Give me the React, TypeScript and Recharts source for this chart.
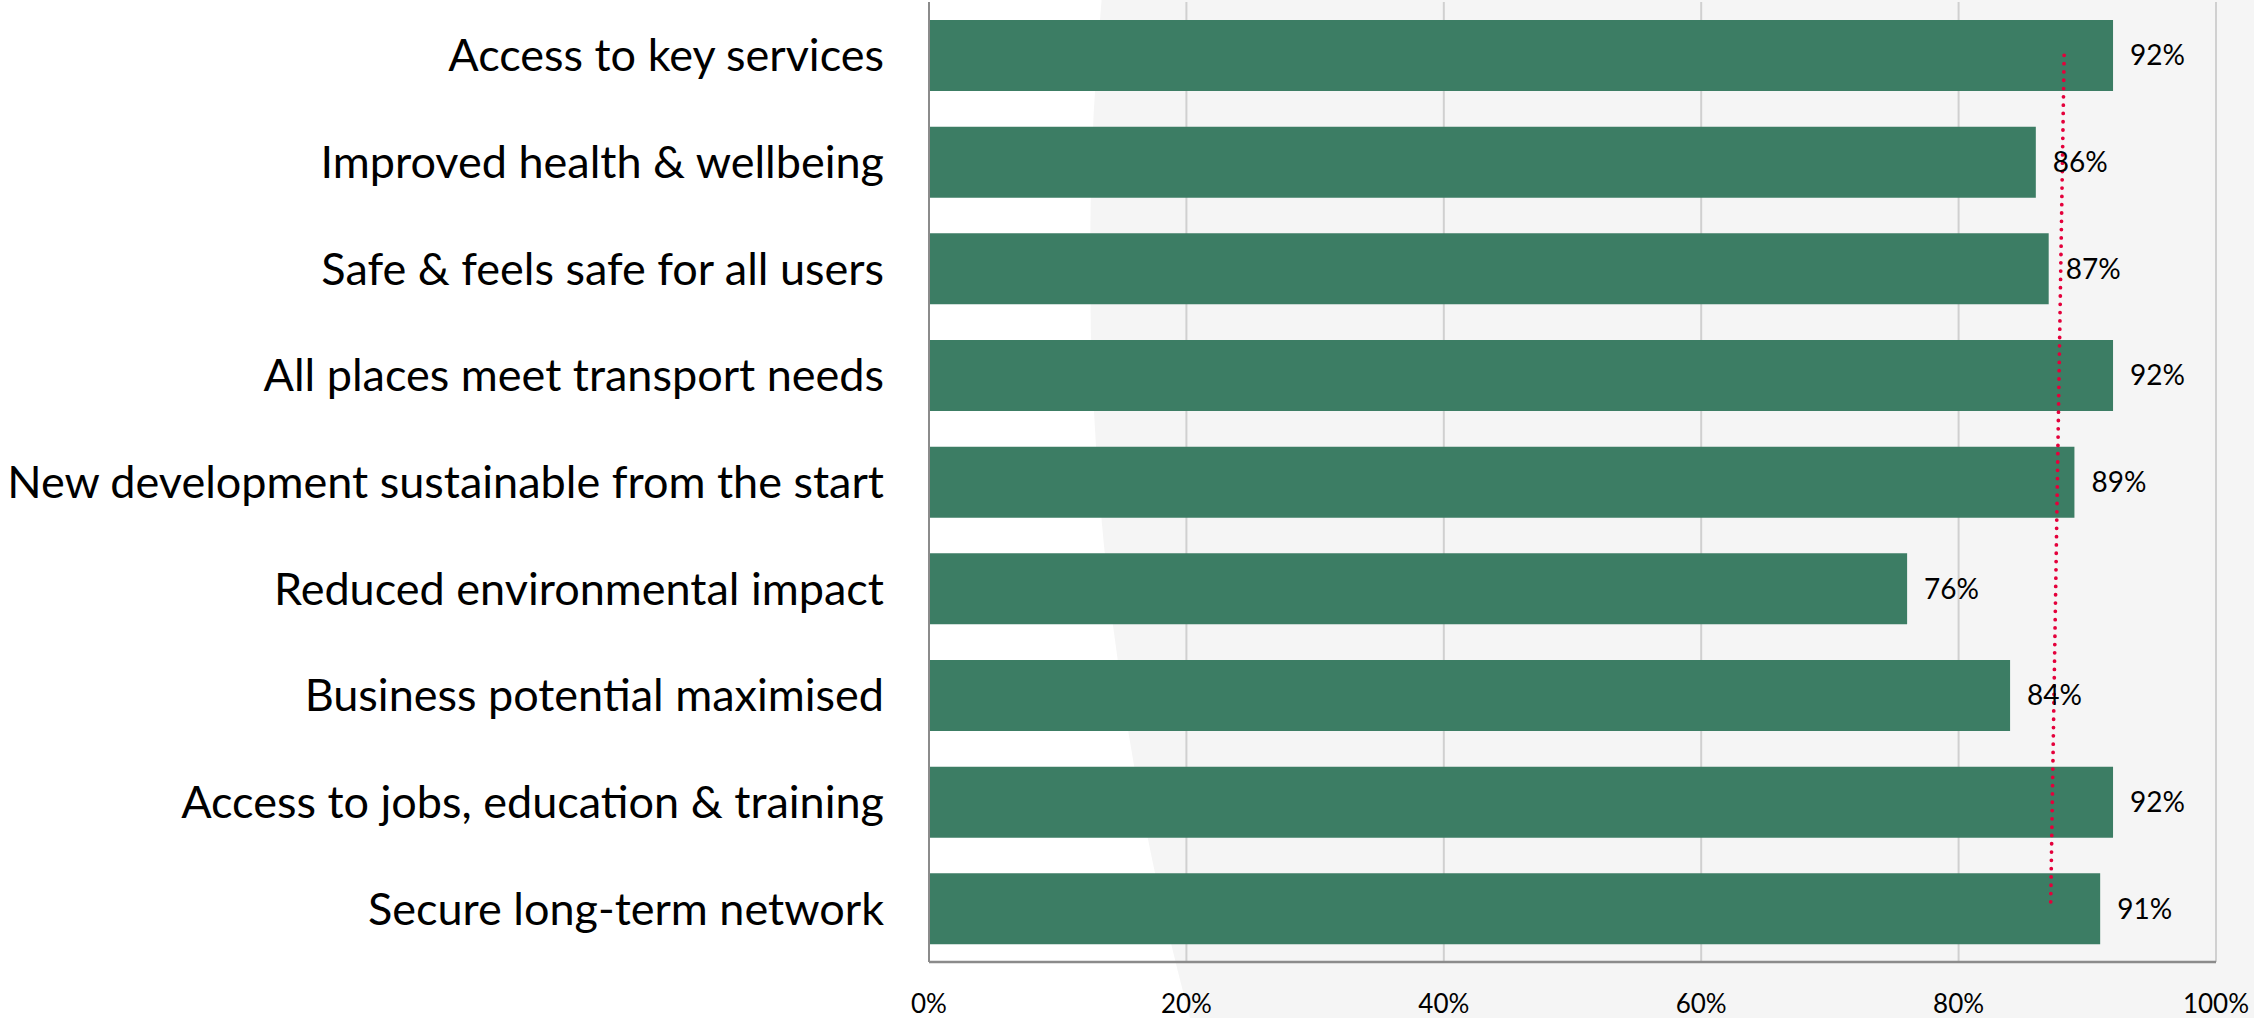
import {
  BarChart,
  Bar,
  XAxis,
  YAxis,
  CartesianGrid,
  LabelList,
  ReferenceLine
} from 'recharts';

const categories = [
  'Access to key services',
  'Improved health & wellbeing',
  'Safe & feels safe for all users',
  'All places meet transport needs',
  'New development sustainable from the start',
  'Reduced environmental impact',
  'Business potential maximised',
  'Access to jobs, education & training',
  'Secure long-term network'
];

const shares = [92, 86, 87, 92, 89, 76, 84, 92, 91];

const xTicks = [0, 20, 40, 60, 80, 100];

// dotted trend line, read at the top and bottom bars
const trendEnds = [88.2, 87.15];

const App = () => {
  const data = categories.map((category, i) => ({ category, share: shares[i] }));

  return (
    <div
      style={{
        position: 'absolute',
        left: 0,
        top: 0,
        width: 2254,
        height: 1018,
        overflow: 'hidden',
        background: '#fff',
        fontFamily: 'Lato, sans-serif'
      }}
    >
      {/* big grey disc behind the chart */}
      <div
        style={{
          position: 'absolute',
          left: 1090,
          top: 260 - 2923,
          width: 5846,
          height: 5846,
          borderRadius: '50%',
          background: '#F5F5F5'
        }}
      />
      <div style={{ position: 'absolute', left: 0, top: 0 }}>
        <BarChart
          layout="vertical"
          width={2254}
          height={1018}
          data={data}
          margin={{ top: 2, right: 38, bottom: 0, left: 0 }}
          barSize={71}
        >
          <CartesianGrid horizontal={false} stroke="#D0D0D0" strokeWidth={2} />
          <XAxis
            type="number"
            domain={[0, 100]}
            ticks={xTicks}
            interval={0}
            tickFormatter={(v) => `${v}%`}
            axisLine={{ stroke: '#8B8B8B', strokeWidth: 2.5 }}
            tickLine={false}
            tickMargin={27}
            height={56}
            tick={{ fill: '#000', fontSize: 26 }}
          />
          <YAxis
            type="category"
            dataKey="category"
            width={929}
            interval={0}
            axisLine={{ stroke: '#8B8B8B', strokeWidth: 2 }}
            tickLine={false}
            tickMargin={39}
            tick={{ fill: '#000', fontSize: 45 }}
          />
          <Bar dataKey="share" fill="#3C7D64" isAnimationActive={false}>
            <LabelList
              dataKey="share"
              position="right"
              offset={17}
              fill="#000"
              fontSize={28}
              formatter={(v: any) => `${v}%`}
            />
          </Bar>
          <ReferenceLine
            segment={[
              { x: trendEnds[0], y: categories[0] },
              { x: trendEnds[1], y: categories[categories.length - 1] }
            ]}
            stroke="#E4003B"
            strokeWidth={3.8}
            strokeDasharray="0 8.3"
            strokeLinecap="round"
          />
        </BarChart>
      </div>
    </div>
  );
};

export default App;
